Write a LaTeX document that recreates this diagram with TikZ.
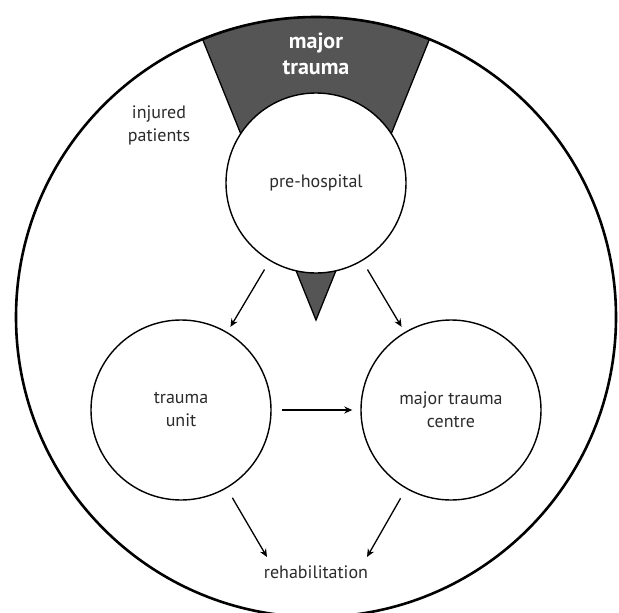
\documentclass[tikz,border=0pt]{standalone}
\usepackage{fontspec}
\setmainfont{PT Sans}
\usetikzlibrary{arrows.meta}
\definecolor{txt}{HTML}{2B2B2B}
\definecolor{wedge}{HTML}{555555}
\tikzset{
  stage/.style={circle, draw=black, line width=1.4pt, fill=white, minimum size=180pt, inner sep=0pt, align=center, text=txt, font=\fontsize{18}{23}\selectfont},
  lbl/.style={text=txt, align=center, inner sep=0pt, font=\fontsize{18}{23}\selectfont},
  arr/.style={line width=1.3pt, -{Stealth[length=8pt, width=7pt]}},
  harr/.style={line width=2.2pt, -{Stealth[length=8pt, width=7pt]}}
}
\begin{document}
\begin{tikzpicture}[x=1pt, y=-1pt]
\useasboundingbox (0,0) rectangle (619,613);
\begin{scope}
\clip (0,0) rectangle (619,613);
\coordinate (c) at (316,317);
\coordinate (apex) at (316,320);
\fill[white] (c) circle[radius=300];
\filldraw[fill=wedge, draw=black, line width=1.3pt] (apex) -- ++(-112:303) arc[start angle=-112, end angle=-68, radius=303] -- cycle;
\draw[line width=2.6pt] (c) circle[radius=300];
\end{scope}
\node[stage] (ph) at (316,183) {pre-hospital};
\node[stage] (tu) at (181,410) {trauma\\unit};
\node[stage] (mtc) at (451,410) {major trauma\\centre};
\node[lbl, font=\bfseries\fontsize{22}{26}\selectfont, text=white] (mt) at (316,54) {major\\trauma};
\node[lbl] (ip) at (159,125) {injured\\patients};
\node[lbl] (rh) at (316,572) {rehabilitation};
\coordinate (rl) at (267,557);
\coordinate (rr) at (367,557);
\draw[arr, shorten <=10pt, shorten >=6pt] (ph) -- (tu);
\draw[arr, shorten <=10pt, shorten >=6pt] (ph) -- (mtc);
\draw[harr, shorten <=10pt, shorten >=8pt] (tu) -- (mtc);
\draw[arr, shorten <=11pt] (tu) -- (rl);
\draw[arr, shorten <=11pt] (mtc) -- (rr);
\end{tikzpicture}
\end{document}
